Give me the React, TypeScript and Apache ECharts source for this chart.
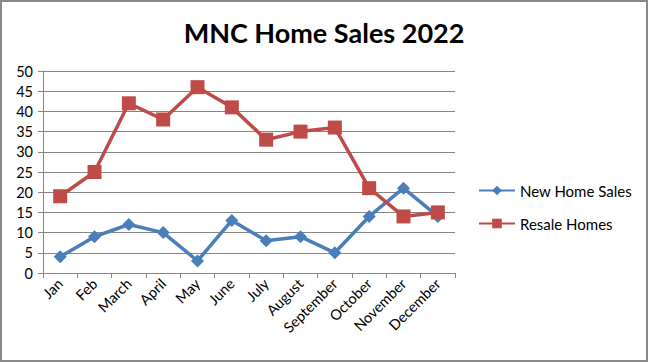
import React, { useEffect, useRef } from "react";
import * as echarts from "echarts";

const titleText = "MNC Home Sales 2022";
const months = ["Jan", "Feb", "March", "April", "May", "June", "July", "August", "September", "October", "November", "December"];
const newHomeSales = [4, 9, 12, 10, 3, 13, 8, 9, 5, 14, 21, 14];
const resaleHomes = [19, 25, 42, 38, 46, 41, 33, 35, 36, 21, 14, 15];
const seriesNames = ["New Home Sales", "Resale Homes"];

export default function App() {
  const ref = useRef<HTMLDivElement>(null);
  useEffect(() => {
    document.body.style.margin = "0";
    const chart = echarts.init(ref.current!, null, { renderer: "svg" });
    const font = "Lato, 'Open Sans', sans-serif";
    chart.setOption({
      animation: false,
      backgroundColor: "#ffffff",
      title: {
        text: titleText,
        left: "center",
        top: 14,
        textStyle: { fontFamily: font, fontSize: 27, fontWeight: "bold", color: "#000" },
      },
      legend: {
        orient: "vertical",
        left: 478,
        top: 183,
        padding: 0,
        itemWidth: 36,
        itemHeight: 12,
        itemGap: 18,
        textStyle: { fontFamily: font, fontSize: 15, color: "#000" },
        data: seriesNames,
      },
      grid: { left: 43, right: 193, top: 71, bottom: 89, containLabel: false },
      xAxis: {
        type: "category",
        data: months,
        boundaryGap: true,
        axisLine: { lineStyle: { color: "#868686", width: 1 } },
        axisTick: { show: true, length: 5, lineStyle: { color: "#868686" } },
        axisLabel: { rotate: 45, interval: 0, fontFamily: font, fontSize: 14.5, color: "#000", margin: 8 },
      },
      yAxis: {
        type: "value",
        min: 0,
        max: 50,
        interval: 5,
        axisLine: { show: true, lineStyle: { color: "#868686", width: 1 } },
        axisTick: { show: true, length: 5, lineStyle: { color: "#868686" } },
        axisLabel: { fontFamily: font, fontSize: 14.5, color: "#000", margin: 10 },
        splitLine: { lineStyle: { color: "#868686", width: 1 } },
      },
      series: [
        {
          name: seriesNames[0],
          type: "line",
          data: newHomeSales,
          symbol: "diamond",
          symbolSize: 13,
          lineStyle: { color: "#4A7EBB", width: 3.5 },
          itemStyle: { color: "#4A7EBB" },
          z: 3,
        },
        {
          name: seriesNames[1],
          type: "line",
          data: resaleHomes,
          symbol: "rect",
          symbolSize: 14,
          lineStyle: { color: "#BE4B48", width: 3.5 },
          itemStyle: { color: "#BE4B48" },
          z: 4,
        },
      ],
    });
    return () => chart.dispose();
  }, []);
  return (
    <div style={{ width: 648, height: 362, position: "relative", background: "#fff" }}>
      <div ref={ref} style={{ position: "absolute", left: 0, top: 0, width: 648, height: 362 }} />
      <div
        style={{
          position: "absolute",
          left: 0,
          top: 0,
          width: 648,
          height: 362,
          border: "2px solid #888",
          boxSizing: "border-box",
          pointerEvents: "none",
        }}
      />
    </div>
  );
}
